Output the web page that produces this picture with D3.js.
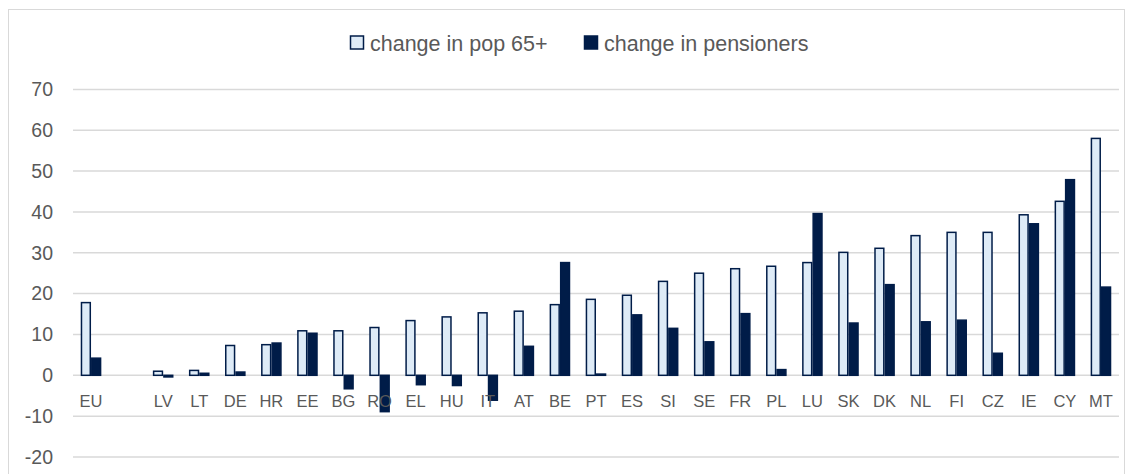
<!DOCTYPE html>
<html>
<head>
<meta charset="utf-8">
<script src="https://cdn.jsdelivr.net/npm/d3@7"></script>
<style>
  body { margin: 0; background: #fff; }
  svg { display: block; font-family: "Liberation Sans", Arial, sans-serif; }
</style>
</head>
<body>
<svg id="chart" width="1126" height="474"></svg>
<script>
// Categories (blank slot after EU kept as in the original)
const countries = ['EU', ' ', 'LV', 'LT', 'DE', 'HR', 'EE', 'BG', 'RO', 'EL', 'HU', 'IT', 'AT', 'BE',
  'PT', 'ES', 'SI', 'SE', 'FR', 'PL', 'LU', 'SK', 'DK', 'NL', 'FI', 'CZ', 'IE', 'CY', 'MT'];
const pop65 = [17.8, null, 1.0, 1.2, 7.3, 7.5, 10.9, 10.9, 11.7, 13.4, 14.3, 15.3, 15.7, 17.3,
  18.6, 19.6, 23.0, 25.0, 26.1, 26.7, 27.6, 30.1, 31.1, 34.2, 35.0, 35.0, 39.3, 42.6, 58.0];
const pensioners = [4.2, null, -0.4, 0.5, 0.8, 7.9, 10.3, -3.3, -8.9, -2.3, -2.5, -6.1, 7.1, 27.6,
  0.3, 14.8, 11.5, 8.2, 15.1, 1.4, 39.6, 12.8, 22.2, 13.1, 13.5, 5.4, 37.1, 47.9, 21.6];
const yTicks = [-20, -10, 0, 10, 20, 30, 40, 50, 60, 70];
const seriesNames = ['change in pop 65+', 'change in pensioners'];

const lightFill = '#deebf7', navy = '#001c48', gridColor = '#d9d9d9', textColor = '#595959';

const svg = d3.select('#chart');

// chart area border
svg.append('rect')
  .attr('x', 8.5).attr('y', 9.5)
  .attr('width', 1116).attr('height', 475)
  .attr('fill', 'none').attr('stroke', gridColor).attr('stroke-width', 1);

const margin = {left: 73, right: 7};
const x = d3.scaleBand()
  .domain(countries)
  .range([margin.left, 1126 - margin.right])
  .paddingInner(0).paddingOuter(0);

const y = d3.scaleLinear().domain([-20, 70]).range([457, 89.4]);

// gridlines
svg.append('g').selectAll('line')
  .data(yTicks)
  .join('line')
  .attr('x1', margin.left).attr('x2', 1126 - margin.right)
  .attr('y1', d => y(d)).attr('y2', d => y(d))
  .attr('stroke', gridColor).attr('stroke-width', 1.5);

// y tick labels
svg.append('g').selectAll('text')
  .data(yTicks)
  .join('text')
  .attr('x', 53).attr('y', d => y(d))
  .attr('dy', '0.35em')
  .attr('text-anchor', 'end')
  .attr('font-size', 19.5)
  .attr('fill', textColor)
  .text(d => d);

// bars
const barW = x.bandwidth() / 3.5;
const rows = countries.map((c, i) => ({c, a: pop65[i], b: pensioners[i]}))
  .filter(d => d.a !== null);

const bars = svg.append('g');
bars.selectAll('rect.pop')
  .data(rows)
  .join('rect')
  .attr('class', 'pop')
  .attr('x', d => x(d.c) + x.bandwidth() / 2 - barW + 0.75)
  .attr('width', barW - 1.5)
  .attr('y', d => Math.min(y(d.a), y(0)))
  .attr('height', d => Math.abs(y(d.a) - y(0)))
  .attr('fill', lightFill).attr('stroke', navy).attr('stroke-width', 1.5);

bars.selectAll('rect.pen')
  .data(rows)
  .join('rect')
  .attr('class', 'pen')
  .attr('x', d => x(d.c) + x.bandwidth() / 2 + 0.75)
  .attr('width', barW - 1.5)
  .attr('y', d => Math.min(y(d.b), y(0)))
  .attr('height', d => Math.abs(y(d.b) - y(0)))
  .attr('fill', navy).attr('stroke', navy).attr('stroke-width', 1.5);

// category labels just below the zero line
svg.append('g').selectAll('text')
  .data(countries)
  .join('text')
  .attr('x', d => x(d) + x.bandwidth() / 2)
  .attr('y', 401.5)
  .attr('dy', '0.35em')
  .attr('text-anchor', 'middle')
  .attr('font-size', 16.5)
  .attr('fill', textColor)
  .text(d => d.trim());

// legend
const legend = svg.append('g');
const legendX = [350.5, 584.5];
seriesNames.forEach((name, i) => {
  legend.append('rect')
    .attr('x', legendX[i]).attr('y', 36)
    .attr('width', 13).attr('height', 13)
    .attr('fill', i === 0 ? lightFill : navy)
    .attr('stroke', navy).attr('stroke-width', 1.5);
  legend.append('text')
    .attr('x', legendX[i] + 19.5).attr('y', 43)
    .attr('dy', '0.35em')
    .attr('font-size', 21.5)
    .attr('fill', textColor)
    .text(name);
});
</script>
</body>
</html>
